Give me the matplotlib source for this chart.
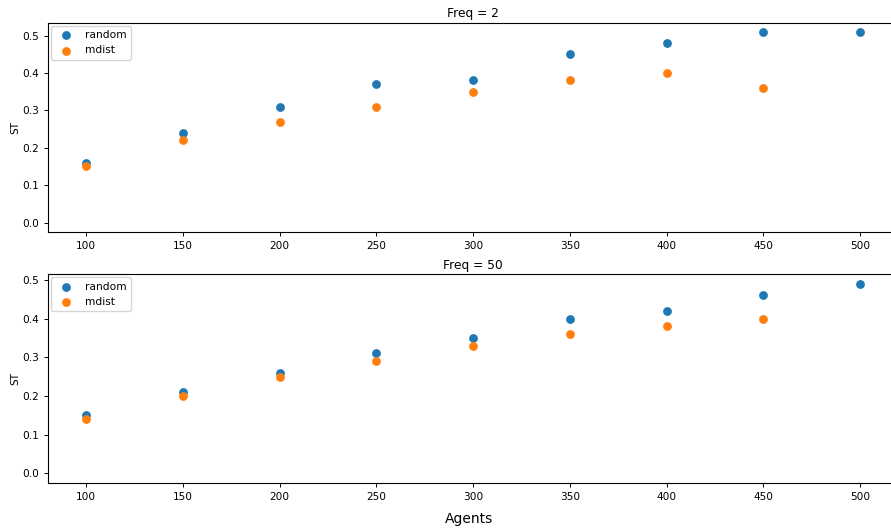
import numpy as np
import matplotlib
matplotlib.use("Agg")
import matplotlib.pyplot as plt

# data
agents = [100, 150, 200, 250, 300, 350, 400, 450, 500]

freq2_random = [0.16, 0.24, 0.31, 0.37, 0.38, 0.45, 0.48, 0.51, 0.51]
freq2_mdist  = [0.15, 0.22, 0.27, 0.31, 0.35, 0.38, 0.40, 0.36]

freq50_random = [0.15, 0.21, 0.26, 0.31, 0.35, 0.40, 0.42, 0.46, 0.49]
freq50_mdist  = [0.14, 0.20, 0.25, 0.29, 0.33, 0.36, 0.38, 0.40]

panels = [
    ("Freq = 2", freq2_random, freq2_mdist),
    ("Freq = 50", freq50_random, freq50_mdist),
]

fig = plt.figure(figsize=(8.91, 5.30), dpi=100)

# axes are wider than the figure on the right (reference is cropped)
positions = [
    [0.0535, 0.5625, 0.955, 0.395],
    [0.0535, 0.0887, 0.955, 0.394],
]

for (title, rnd, md), pos in zip(panels, positions):
    ax = fig.add_axes(pos)
    ax.scatter(agents[:len(rnd)], rnd, s=28, color="tab:blue", label="random")
    ax.scatter(agents[:len(md)], md, s=28, color="tab:orange", label="mdist")
    ax.set_title(title, fontsize=8.8, pad=4)
    ax.set_ylabel("ST", fontsize=7.6, labelpad=1)
    ax.set_xlim(80, 520)
    ax.set_ylim(-0.025, 0.535 if title == "Freq = 2" else 0.515)
    ax.set_xticks(agents)
    ax.set_yticks(np.arange(0, 0.51, 0.1))
    ax.tick_params(labelsize=7.6, length=3, width=0.7)
    for sp in ax.spines.values():
        sp.set_linewidth(0.8)
    ax.legend(loc="upper left", fontsize=7.7, markerscale=1.0,
              borderaxespad=0.3, handletextpad=0.8)

fig.text(0.526, 0.021, "Agents", ha="center", va="center", fontsize=10)

fig.savefig("out.png", dpi=100)
